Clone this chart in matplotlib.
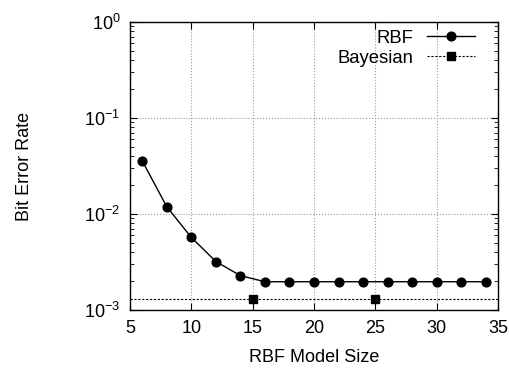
import matplotlib
matplotlib.use("Agg")
import matplotlib.pyplot as plt
import numpy as np

plt.rcParams["font.family"] = ["Liberation Sans", "DejaVu Sans"]
plt.rcParams["mathtext.fontset"] = "custom"
plt.rcParams["mathtext.rm"] = "Liberation Sans"
plt.rcParams["mathtext.default"] = "regular"
plt.rcParams["font.size"] = 13

# RBF error rate vs model size
model_size = [6, 8, 10, 12, 14, 16, 18, 20, 22, 24, 26, 28, 30, 32, 34]
rbf_ber = [0.0357, 0.0119, 0.0057, 0.0032, 0.00228, 0.00197, 0.00197, 0.00197,
           0.00197, 0.00197, 0.00197, 0.00197, 0.00197, 0.00197, 0.00197]

# Bayesian benchmark (flat)
bayes_x = [5, 15, 25, 35]
bayes_ber = [0.0013, 0.0013, 0.0013, 0.0013]
bayes_marks = [1, 2]

xticks = [5, 10, 15, 20, 25, 30, 35]

fig = plt.figure(figsize=(5.09, 3.73), dpi=100)
ax = fig.add_axes([130 / 509, 63 / 373, 368 / 509, 288 / 373])

ax.plot(model_size, rbf_ber, "-", color="black", lw=1.0, marker="o",
        markersize=6.3, label="RBF")
ax.plot(bayes_x, bayes_ber, color="black", lw=0.8, linestyle=(0, (2, 1.5)),
        marker="s", markersize=6.3, markevery=bayes_marks, label="Bayesian")

ax.set_yscale("log")
ax.set_xlim(5, 35)
ax.set_ylim(1e-3, 1)
ax.set_xticks(xticks)
ax.set_xticklabels([str(t) for t in xticks])

ax.grid(True, which="major", color="#999999", linestyle=":", lw=0.8)
ax.tick_params(which="both", direction="in", top=True, right=True)
ax.tick_params(which="major", length=5, pad=7)
ax.tick_params(which="minor", length=3)
for s in ax.spines.values():
    s.set_linewidth(1.0)

ax.set_xlabel("RBF Model Size", labelpad=9)
ax.set_ylabel("Bit Error Rate", labelpad=37)

ax.legend(loc="upper right", frameon=False, markerfirst=False,
          handlelength=2.6, handletextpad=0.75, labelspacing=0.15,
          fontsize=13.3, borderaxespad=0.1, bbox_to_anchor=(0.962, 1.005))

fig.savefig("out.png", dpi=100)
